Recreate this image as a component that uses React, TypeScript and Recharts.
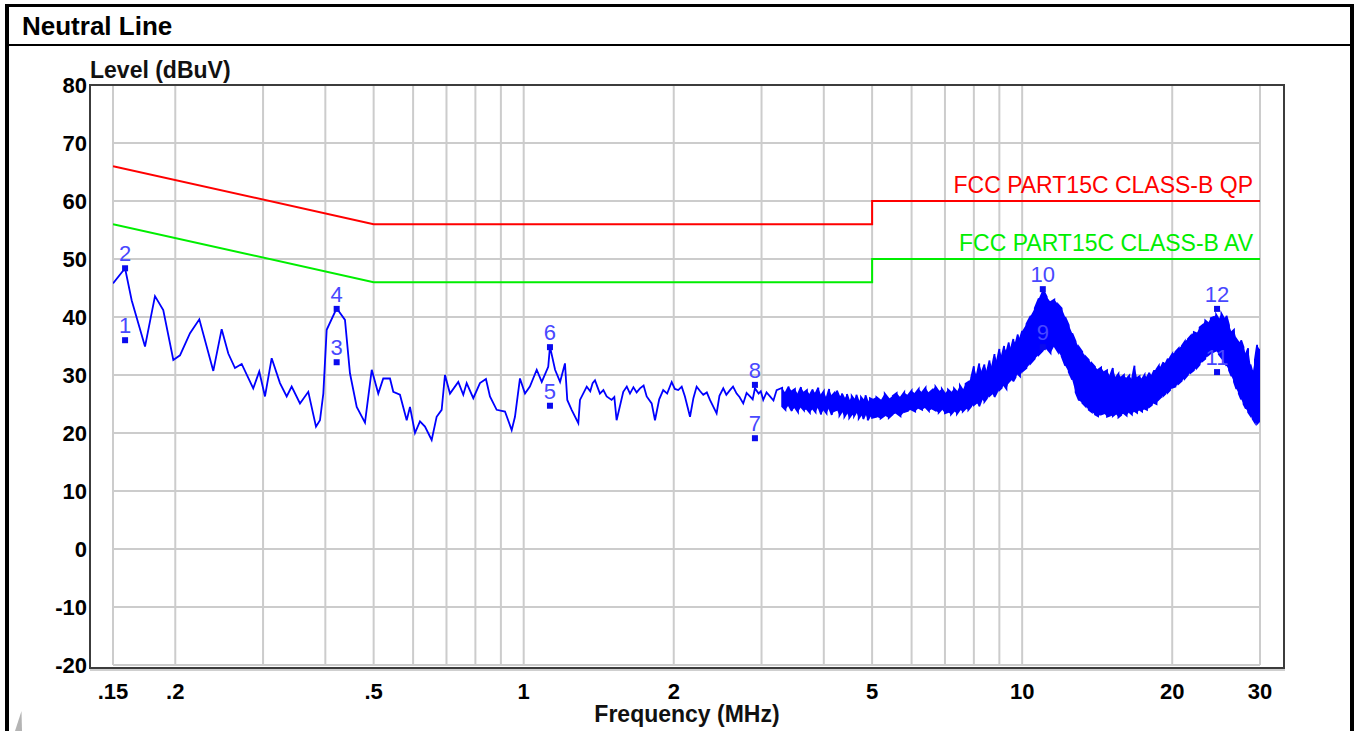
import React from 'react';
import { ComposedChart, Line, Area, Scatter, XAxis, YAxis, CartesianGrid } from 'recharts';

const FONT = '"Liberation Sans", Arial, sans-serif';

// axes
const xTicks = [0.15, 0.2, 0.5, 1, 2, 5, 10, 20, 30];
const xTickLabels = ['.15', '.2', '.5', '1', '2', '5', '10', '20', '30'];
const gridFreqs = [0.15, 0.2, 0.3, 0.4, 0.5, 0.6, 0.7, 0.8, 0.9, 1, 2, 3, 4, 5, 6, 7, 8, 9, 10, 20, 30];
const yTicks = [-20, -10, 0, 10, 20, 30, 40, 50, 60, 70, 80];

// limit lines (dBuV)
const qpFreq = [0.15, 0.5, 5, 5, 30];
const qpLevel = [66, 56, 56, 60, 60];
const avFreq = [0.15, 0.5, 5, 5, 30];
const avLevel = [56, 46, 46, 50, 50];

// scan trace, 0.15 - 3.2 MHz (MHz / dBuV)
const lowFreq = [
  0.150, 0.1586, 0.1635, 0.1739, 0.1821, 0.1892, 0.1982, 0.2044, 0.2141, 0.2235,
  0.2384, 0.2478, 0.2555, 0.2635, 0.2718, 0.2867, 0.2948, 0.3027, 0.3122, 0.3244,
  0.3346, 0.3424, 0.3558, 0.3697, 0.3831, 0.3902, 0.3963, 0.4025, 0.4215, 0.4380,
  0.4482, 0.4624, 0.4804, 0.4956, 0.5108, 0.5227, 0.5392, 0.5475, 0.5646, 0.5825,
  0.5914, 0.6052, 0.6193, 0.6338, 0.6537, 0.6689, 0.6846, 0.6951, 0.7114, 0.7392,
  0.7565, 0.7684, 0.7923, 0.8171, 0.8400, 0.8557, 0.8826, 0.9172, 0.9460, 0.9605,
  0.9829, 1.006, 1.029, 1.062, 1.087, 1.120, 1.129, 1.156, 1.183, 1.210,
  1.223, 1.248, 1.287, 1.297,
  1.338, 1.36, 1.375, 1.390, 1.405, 1.422, 1.445, 1.467, 1.501, 1.52,
  1.536, 1.584, 1.61, 1.634, 1.66, 1.685, 1.711, 1.74, 1.765, 1.806,
  1.834, 1.87, 1.905, 1.94, 1.981, 2.01, 2.042, 2.075, 2.106, 2.156,
  2.19, 2.223, 2.26, 2.292, 2.33, 2.364, 2.438, 2.47, 2.514, 2.55,
  2.593, 2.63, 2.674, 2.71, 2.757, 2.80, 2.844, 2.88, 2.910, 2.96,
  2.99, 3.024, 3.07, 3.120, 3.17, 3.217,
];
const lowLevel = [
  45.8, 48.4, 42.9, 34.9, 43.6, 41.2, 32.6, 33.4, 37.2, 39.6,
  30.7, 37.9, 33.7, 31.2, 31.9, 27.7, 30.6, 26.3, 32.9, 28.6,
  26.3, 28.0, 25.1, 27.1, 21.1, 22.2, 26.8, 37.8, 41.5, 39.5,
  30.3, 24.5, 21.8, 30.9, 26.8, 29.4, 29.4, 27.1, 26.6, 22.2,
  24.5, 20.0, 22.0, 21.1, 18.8, 22.8, 24.0, 30.0, 26.8, 28.8,
  26.6, 28.6, 26.0, 28.6, 29.3, 26.3, 24.0, 23.7, 20.5, 22.8,
  29.4, 26.8, 28.0, 30.9, 28.8, 31.4, 34.9, 30.9, 28.8, 32.0,
  25.7, 24.0, 21.7, 25.7,
  28.0, 27.2, 28.6, 29.1, 28.0, 26.8, 27.4, 26.3, 25.7, 26.2,
  22.2, 27.1, 28.0, 26.8, 27.9, 27.0, 27.7, 28.2, 26.3, 25.1,
  22.2, 25.8, 27.4, 26.8, 28.8, 27.6, 27.4, 28.0, 26.3, 22.8,
  26.0, 28.0, 27.2, 26.6, 27.0, 25.7, 23.4, 26.4, 27.7, 26.6,
  27.4, 28.0, 26.8, 26.2, 25.1, 26.9, 26.3, 25.8, 27.7, 26.8,
  27.2, 25.7, 27.0, 26.3, 25.6, 27.4,
];

// noisy part of the trace, 3.3 - 30 MHz: top and bottom of each sweep stroke
const bandFreq = [
  3.3, 3.35, 3.4, 3.45, 3.5, 3.55, 3.6, 3.65, 3.7, 3.75,
  3.8, 3.85, 3.9, 3.95, 4.0, 4.05, 4.1, 4.15, 4.2, 4.25,
  4.3, 4.35, 4.4, 4.45, 4.5, 4.55, 4.6, 4.65, 4.7, 4.75,
  4.8, 4.85, 4.9, 4.95, 5.0,
  5.1, 5.2, 5.3, 5.4, 5.5, 5.6, 5.7, 5.8, 5.9, 6.0,
  6.1, 6.2, 6.3, 6.4, 6.5, 6.6, 6.7, 6.8, 6.9, 7.0,
  7.1, 7.2, 7.3, 7.4, 7.5, 7.6, 7.7, 7.8, 7.9, 8.0,
  8.1, 8.2, 8.3, 8.4, 8.5, 8.6, 8.7, 8.8, 8.9, 9.0,
  9.1, 9.2, 9.3, 9.4, 9.5, 9.6, 9.7, 9.8, 9.9, 10.0,
  10.2, 10.4, 10.6, 10.8, 11.0, 11.2, 11.4, 11.6, 11.8, 12.0,
  12.2, 12.4, 12.6, 12.8, 13.0, 13.2, 13.4, 13.6, 13.8, 14.0,
  14.2, 14.4, 14.6, 14.8, 15.0, 15.2, 15.4, 15.6, 15.8, 16.0,
  16.2, 16.4, 16.6, 16.8, 17.0, 17.2, 17.4, 17.6, 17.8, 18.0,
  18.2, 18.4, 18.6, 18.8, 19.0, 19.2, 19.4, 19.6, 19.8, 20.0,
  20.3, 20.6, 20.9, 21.2, 21.5, 21.8, 22.1, 22.4, 22.7, 23.0,
  23.3, 23.6, 23.9, 24.2, 24.5, 24.8, 25.1, 25.4, 25.7, 26.0,
  26.3, 26.6, 26.9, 27.2, 27.5, 27.8, 28.1, 28.4, 28.7, 29.0,
  29.3, 29.6, 29.9, 30.0,
];
const bandHigh = [
  27.8, 26.9, 28.0, 27.2, 27.6, 26.7, 27.9, 27.0, 27.4, 26.6,
  27.5, 26.8, 27.8, 26.5, 27.2, 26.0, 27.6, 26.4, 26.9, 27.3,
  26.2, 26.8, 25.9, 26.7, 25.5, 26.4, 25.8, 26.6, 25.4, 26.2,
  25.7, 26.5, 25.3, 26.0, 25.8,
  26.2, 25.6, 26.8, 25.9, 26.4, 26.9, 26.1, 27.0, 26.5, 27.3,
  26.8, 27.6, 27.0, 27.8, 26.9, 27.4, 28.0, 27.2, 27.6, 26.8,
  27.5, 27.0, 27.7, 27.1, 28.2, 27.4, 28.5, 28.8, 29.5, 31.5,
  29.8, 32.0, 30.5, 31.8, 30.6, 32.5, 31.4, 33.6, 32.4, 34.5,
  33.2, 35.0, 34.0, 35.6, 34.6, 36.2, 35.4, 37.0, 36.3, 37.6,
  38.8, 40.2, 41.5, 43.2, 44.8, 43.5, 42.6, 43.0, 42.2, 41.5,
  40.0, 38.6, 37.2, 35.8, 34.8, 34.0, 33.2, 32.6, 32.0, 31.4,
  30.9, 31.3, 30.5, 30.8, 29.8, 31.2, 29.5, 30.2, 29.6, 30.0,
  29.4, 29.9, 29.2, 31.6, 29.5, 29.8, 29.3, 30.0, 29.6, 30.4,
  29.9, 30.8, 31.0, 31.6, 31.4, 32.2, 32.0, 32.8, 33.0, 33.6,
  34.0, 34.6, 35.0, 35.8, 36.2, 36.8, 37.4, 37.2, 38.2, 38.6,
  39.4, 39.0, 39.8, 40.0, 40.4, 39.6, 40.6, 39.8, 40.2, 38.6,
  37.4, 37.8, 36.2, 35.6, 36.0, 34.8, 33.6, 34.6, 31.8, 30.4,
  32.6, 35.2, 34.5, 33.0,
];
const bandLow = [
  24.6, 24.0, 24.8, 23.8, 24.4, 23.6, 24.5, 23.9, 24.1, 23.5,
  24.2, 23.6, 24.5, 23.2, 24.0, 23.4, 24.3, 23.1, 23.8, 24.0,
  23.0, 23.7, 22.8, 23.5, 22.6, 23.2, 22.9, 23.6, 22.5, 23.1,
  22.4, 23.3, 22.2, 22.9, 22.6,
  22.8, 22.5, 23.0, 22.6, 23.2, 23.4, 22.9, 23.6, 23.8, 24.0,
  23.7, 24.3, 24.0, 24.4, 23.8, 24.2, 23.9, 23.5, 24.1, 23.4,
  23.6, 23.2, 23.8, 23.3, 24.0, 23.7, 24.2, 24.0, 24.6, 24.8,
  25.2, 24.6, 25.8, 25.4, 26.0, 26.4, 26.8, 26.2, 27.0, 27.4,
  27.8, 28.2, 27.6, 28.8, 29.2, 28.9, 29.6, 30.2, 29.8, 30.6,
  31.2, 32.0, 32.8, 33.5, 34.2, 34.6, 33.8, 35.0, 34.0, 33.2,
  31.6, 30.5, 29.2, 27.0, 25.6, 25.2, 24.6, 24.0, 23.6, 23.2,
  22.9, 23.2, 23.4, 22.8, 23.0, 22.9, 23.3, 22.7, 23.1, 23.4,
  23.0, 23.6, 23.2, 23.8, 23.5, 24.0, 23.7, 24.2, 24.0, 24.5,
  24.8, 25.2, 25.0, 25.8, 26.2, 26.4, 26.8, 27.0, 27.4, 27.8,
  28.0, 28.5, 29.0, 29.4, 30.0, 30.4, 30.8, 31.2, 31.8, 32.4,
  32.8, 33.4, 33.8, 34.0, 34.2, 33.6, 33.0, 32.4, 31.6, 30.8,
  29.8, 28.8, 27.6, 26.8, 25.8, 25.0, 24.2, 23.6, 23.0, 22.4,
  21.8, 21.6, 22.0, 24.0,
];

// marked readings
const markerNo = [1, 2, 3, 4, 5, 6, 7, 8, 9, 10, 11, 12];
const markerFreq = [0.1586, 0.1586, 0.4215, 0.4215, 1.129, 1.129, 2.91, 2.91, 11.0, 11.0, 24.6, 24.6];
const markerLevel = [36.0, 48.4, 32.2, 41.4, 24.7, 34.8, 19.1, 28.3, 34.8, 44.8, 30.5, 41.4];

const MarkerShape = (props: any) => {
  const { cx, cy, payload } = props;
  if (cx == null || cy == null) return null;
  return (
    <g>
      <rect x={cx - 3} y={cy - 3} width={6} height={6} fill="#0a0aee" />
      <text x={cx} y={cy - 7} textAnchor="middle" fontSize={22} fontFamily={FONT} fill="#4848ff">
        {payload.n}
      </text>
    </g>
  );
};

export default function App() {
  const qpData = qpFreq.map((f, i) => ({ f, v: qpLevel[i] }));
  const avData = avFreq.map((f, i) => ({ f, v: avLevel[i] }));
  const bandData = bandFreq.map((f, i) => ({ f, r: [bandLow[i], bandHigh[i]] }));
  const trace = [
    ...lowFreq.map((f, i) => ({ f, v: lowLevel[i] })),
    ...bandFreq.flatMap((f, i) =>
      i % 2 === 0
        ? [{ f, v: bandHigh[i] }, { f, v: bandLow[i] }]
        : [{ f, v: bandLow[i] }, { f, v: bandHigh[i] }]
    ),
  ];
  const markers = markerNo.map((n, i) => ({ f: markerFreq[i], v: markerLevel[i], n }));

  const tickStyle = { fontSize: 22, fontWeight: 700, fill: '#000', fontFamily: FONT };

  return (
    <div style={{ position: 'absolute', left: 0, top: 0, width: 1357, height: 731, background: '#fff', overflow: 'hidden' }}>
      <div style={{ position: 'absolute', left: 0, top: 0 }}>
        <ComposedChart width={1357} height={731} margin={{ top: 85, right: 97, bottom: 36, left: 53 }}>
          <CartesianGrid stroke="#cccccc" strokeWidth={2} verticalValues={gridFreqs} horizontalValues={yTicks} />
          <XAxis
            dataKey="f"
            type="number"
            scale="log"
            domain={[0.15, 30]}
            allowDataOverflow
            ticks={xTicks}
            interval={0}
            tickFormatter={(v) => xTickLabels[xTicks.indexOf(v)] ?? String(v)}
            axisLine={false}
            tickLine={false}
            tickSize={0}
            tickMargin={18}
            height={30}
            tick={tickStyle}
          />
          <YAxis
            type="number"
            domain={[-20, 80]}
            ticks={yTicks}
            interval={0}
            axisLine={false}
            tickLine={false}
            tickSize={0}
            tickMargin={26}
            width={60}
            tick={tickStyle}
          />
          <Line data={qpData} dataKey="v" type="linear" stroke="#ff0000" strokeWidth={2} dot={false} activeDot={false} isAnimationActive={false} />
          <Line data={avData} dataKey="v" type="linear" stroke="#00ee00" strokeWidth={2} dot={false} activeDot={false} isAnimationActive={false} />
          <Area data={bandData} dataKey="r" type="linear" stroke="none" fill="#0000ff" fillOpacity={1} dot={false} activeDot={false} isAnimationActive={false} />
          <Line data={trace} dataKey="v" type="linear" stroke="#0000ff" strokeWidth={1.8} dot={false} activeDot={false} isAnimationActive={false} />
          <Scatter data={markers} dataKey="v" shape={MarkerShape} isAnimationActive={false} />
        </ComposedChart>
      </div>
      <svg width={1357} height={731} style={{ position: 'absolute', left: 0, top: 0, pointerEvents: 'none' }} fontFamily={FONT}>
        {/* outer report frame */}
        <line x1={7} y1={4} x2={7} y2={731} stroke="#000" strokeWidth={4} />
        <line x1={1352} y1={4} x2={1352} y2={731} stroke="#000" strokeWidth={4} />
        <line x1={5} y1={5.5} x2={1354} y2={5.5} stroke="#000" strokeWidth={3} />
        <line x1={7} y1={45} x2={1352} y2={45} stroke="#000" strokeWidth={2} />
        <text x={22} y={35} fontSize={26} fontWeight={700} fill="#000">Neutral Line</text>
        <polygon points="21.5,711 22,731 15,731" fill="#b4b4b4" />

        {/* plot frame */}
        <rect x={90} y={85} width={1194} height={583} fill="none" stroke="#3c3c3c" strokeWidth={2} />
        <line x1={90} y1={670} x2={1285} y2={670} stroke="#a0a0a0" strokeWidth={1} />

        <text x={90} y={78} fontSize={23} fontWeight={700} fill="#111">Level (dBuV)</text>
        <text x={687} y={722} fontSize={23} fontWeight={700} fill="#111" textAnchor="middle">Frequency (MHz)</text>
        <text x={1253} y={193} fontSize={23} fill="#ff0000" textAnchor="end">FCC PART15C CLASS-B QP</text>
        <text x={1253} y={251} fontSize={23} fill="#00ee00" textAnchor="end">FCC PART15C CLASS-B AV</text>
      </svg>
    </div>
  );
}
